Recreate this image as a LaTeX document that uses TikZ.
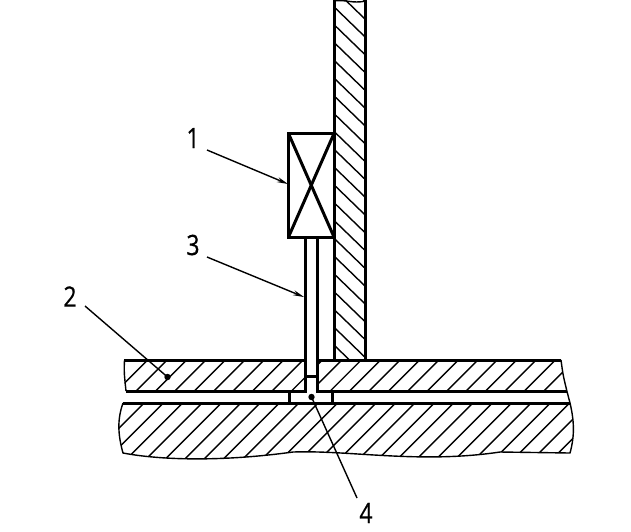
\documentclass[tikz,border=0pt]{standalone}
\usepackage{fontspec}
\setmainfont[FakeStretch=.82,FakeBold=.6]{Open Sans}
\usetikzlibrary{arrows.meta}
\tikzset{
  edge/.style = {line width = 3pt},
  hatch/.style = {line width = 1.4pt},
  thin edge/.style = {line width = 1.4pt},
  lead/.style = {line width = 1.4pt},
  tag/.style = {font = \fontsize{28}{30}\selectfont, inner sep = 0pt}
}
\begin{document}
\begin{tikzpicture}[x = 1pt, y = -1pt]
\useasboundingbox (0,0) rectangle (631,531);
% wall
\begin{scope}
\clip (334,0) rectangle (366,360);
\foreach \i in {0,...,21}
  \draw[hatch] (334,{-28.8 + 17.8*\i}) -- ++(32,31);
\end{scope}
% upper plate
\begin{scope}
\clip (124,360) -- (305,360) -- (305,392) -- (126,392) .. controls (124,380) .. cycle;
\foreach \i in {0,...,10}
  \draw[hatch] ({147.7 + 19.42*\i},360) -- ++(-32,32);
\end{scope}
\begin{scope}
\clip (317,360) -- (561,360) .. controls (563,375) .. (567,392) -- (317,392) -- cycle;
\foreach \i in {0,...,13}
  \draw[hatch] ({322.4 + 19.42*\i},360) -- ++(-32,32);
\end{scope}
% lower slab
\begin{scope}
\clip (123,403) .. controls (117,420) and (118,435) .. (123,453)
  .. controls (160,460) and (220,462) .. (293,452)
  .. controls (350,450) and (420,464) .. (500,452) -- (570,453)
  .. controls (575,435) and (574,420) .. (570,403) -- cycle;
\foreach \i in {0,...,25}
  \draw[hatch] ({144 + 19.35*\i},403) -- ++(-60,60);
\end{scope}
% outlines
\draw[edge] (334.5,0) -- (334.5,360);
\draw[edge] (365.5,0) -- (365.5,360);
\draw[thin edge] (334,1) .. controls (345,-1) and (352,4) .. (366,1);
\draw[edge] (124,360.5) -- (305.5,360.5) -- (305.5,391.5) -- (126,391.5);
\draw[edge] (567,391.5) -- (317,391.5) -- (317,360.5) -- (561,360.5);
\draw[edge] (123,403) -- (570,403);
\draw[edge] (305.5,237) -- (305.5,360);
\draw[edge] (317,237) -- (317,360);
\draw[edge] (305.5,376) -- (317,376);
\draw[edge] (289.5,391.5) -- (289.5,403);
\draw[edge] (332.5,391.5) -- (332.5,403);
\draw[thin edge] (124.5,360) .. controls (124,372) .. (126,391);
\draw[thin edge] (561,360) .. controls (563,375) .. (567,391.5) -- (570,403);
\draw[thin edge] (123,403) .. controls (117,420) and (118,435) .. (123,453)
  .. controls (160,460) and (220,462) .. (293,452)
  .. controls (350,450) and (420,464) .. (500,452) -- (570,453)
  .. controls (575,435) and (574,420) .. (570,403);
% valve
\draw[edge] (288.5,133.5) rectangle (334,237);
\draw[edge] (288.5,133.5) -- (334,237);
\draw[edge] (288.5,237) -- (334,133.5);
% labels
\node[tag] (one) at (193,138) {1};
\node[tag] (two) at (70,296.5) {2};
\node[tag] (three) at (193,245) {3};
\node[tag] (four) at (366,513) {4};
\coordinate (oneEnd) at (288,184);
\coordinate (threeEnd) at (304,297);
\fill (167.5,377) circle (3.2) coordinate (twoDot);
\fill (311.5,397) circle (3.2) coordinate (fourDot);
\draw[lead, -{Stealth[length = 11pt, width = 5pt]}] (207,150) -- (oneEnd);
\draw[lead, -{Stealth[length = 11pt, width = 5pt]}] (207,257) -- (threeEnd);
\draw[lead] (85,306) -- (twoDot);
\draw[lead] (fourDot) -- (357,498);
\end{tikzpicture}
\end{document}
